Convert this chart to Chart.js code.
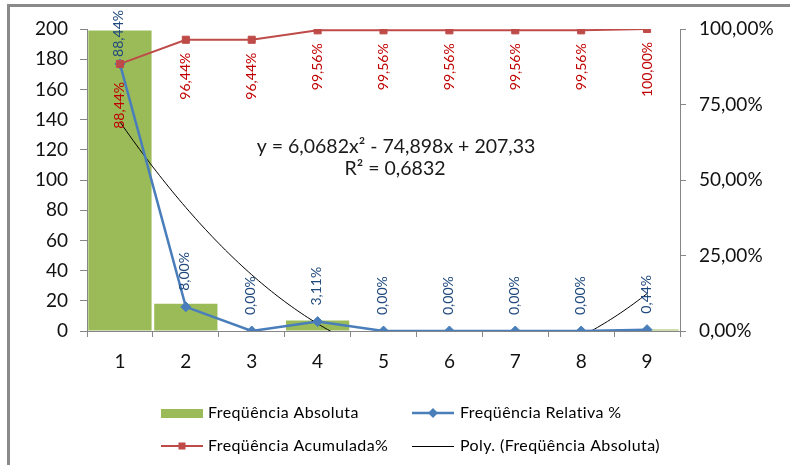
<!DOCTYPE html>
<html>
<head>
<meta charset="utf-8">
<script src="https://cdn.jsdelivr.net/npm/chart.js@4"></script>
<style>
  html, body { margin: 0; padding: 0; background: #ffffff; }
  #wrap { width: 790px; height: 465px; }
</style>
</head>
<body>
<div id="wrap"><canvas id="grafico" width="790" height="465"></canvas></div>
<script>
// Distribuição de frequências por classe
const categorias = ['1', '2', '3', '4', '5', '6', '7', '8', '9'];
const freqAbsoluta = [199, 18, 0, 7, 0, 0, 0, 0, 1];
const freqRelativa = [88.44, 8.00, 0.00, 3.11, 0.00, 0.00, 0.00, 0.00, 0.44];
const freqAcumulada = [88.44, 96.44, 96.44, 99.56, 99.56, 99.56, 99.56, 99.56, 100.00];
// Linha de tendência polinomial (ordem 2): y = a x² + b x + c
const tendenciaCoef = [6.0682, -74.898, 207.33];
const tendenciaR2 = 0.6832;
const nomesSeries = ['Freqüência Absoluta', 'Freqüência Relativa %', 'Freqüência Acumulada%', 'Poly. (Freqüência Absoluta)'];
const ticksEsquerda = [0, 20, 40, 60, 80, 100, 120, 140, 160, 180, 200];
const ticksDireita = [0, 25, 50, 75, 100];

const VERDE = '#9BBB59';
const AZUL = '#4A7EBB';
const VERMELHO = '#BE4B48';
const CINZA = '#868686';
const FONTE = 'Lato, "Open Sans", sans-serif';

const virgula = (v, casas) => v.toFixed(casas).replace('.', ',');
const pct = v => virgula(v, 2) + '%';

// pontos da curva de tendência entre a primeira e a última categoria
const [ta, tb, tc] = tendenciaCoef;
const curva = [];
for (let k = 0; k <= 160; k++) {
  const x = 1 + k * 0.05;
  curva.push({ x: x, y: ta * x * x + tb * x + tc });
}

const fmtCoef = v => String(v).replace('.', ',');
const equacao = 'y = ' + fmtCoef(ta) + 'x² ' + (tb < 0 ? '- ' : '+ ') + fmtCoef(Math.abs(tb)) + 'x ' +
  (tc < 0 ? '- ' : '+ ') + fmtCoef(Math.abs(tc));
const textoR2 = 'R² = ' + fmtCoef(tendenciaR2);

// moldura, rótulos de dados, equação e legenda
const extras = {
  id: 'extras',
  beforeDraw(chart) {
    const ctx = chart.ctx;
    ctx.save();
    ctx.fillStyle = '#ffffff';
    ctx.fillRect(0, 0, chart.width, chart.height);
    ctx.fillStyle = '#8a8a8a';
    ctx.fillRect(7, 4, 3, chart.height - 4);
    ctx.fillRect(7, 4, chart.width - 7, 3);
    ctx.restore();
  },
  afterDatasetsDraw(chart) {
    const ctx = chart.ctx;
    ctx.save();
    ctx.font = '14px ' + FONTE;
    ctx.textBaseline = 'middle';
    // rótulos da frequência relativa (acima dos pontos)
    chart.getDatasetMeta(1).data.forEach((p, i) => {
      const t = pct(freqRelativa[i]);
      const w = ctx.measureText(t).width;
      let base = p.y - 16;
      if (base - w < 10) base = 10 + w;
      ctx.save();
      ctx.translate(p.x - 1, base);
      ctx.rotate(-Math.PI / 2);
      ctx.textAlign = 'left';
      ctx.fillStyle = '#1F497D';
      ctx.fillText(t, 0, 0);
      ctx.restore();
    });
    // rótulos da frequência acumulada (abaixo dos pontos)
    chart.getDatasetMeta(2).data.forEach((p, i) => {
      const t = pct(freqAcumulada[i]);
      ctx.save();
      ctx.translate(p.x, p.y + (i === 0 ? 18 : 13));
      ctx.rotate(-Math.PI / 2);
      ctx.textAlign = 'right';
      ctx.fillStyle = '#C00000';
      ctx.fillText(t, 0, 0);
      ctx.restore();
    });
    ctx.restore();
  },
  afterDraw(chart) {
    const ctx = chart.ctx;
    ctx.save();
    // equação da tendência
    ctx.fillStyle = '#1a1a1a';
    ctx.font = '19.5px ' + FONTE;
    ctx.textAlign = 'center';
    ctx.textBaseline = 'middle';
    ctx.fillText(equacao, 396, 147);
    ctx.fillText(textoR2, 395, 169);

    // legenda
    ctx.font = '16px ' + FONTE;
    ctx.letterSpacing = '0.4px';
    ctx.textAlign = 'left';
    const c1 = 161, c2 = 412, r1 = 413, r2 = 446, comp = 42, tx = 47;
    // barras
    ctx.fillStyle = VERDE;
    ctx.fillRect(c1, r1 - 4, comp, 9);
    // relativa
    ctx.strokeStyle = AZUL; ctx.lineWidth = 2.5;
    ctx.beginPath(); ctx.moveTo(c2, r1); ctx.lineTo(c2 + comp, r1); ctx.stroke();
    ctx.fillStyle = AZUL;
    ctx.beginPath();
    ctx.moveTo(c2 + comp / 2, r1 - 5); ctx.lineTo(c2 + comp / 2 + 5, r1);
    ctx.lineTo(c2 + comp / 2, r1 + 5); ctx.lineTo(c2 + comp / 2 - 5, r1);
    ctx.closePath(); ctx.fill();
    // acumulada
    ctx.strokeStyle = VERMELHO; ctx.lineWidth = 2;
    ctx.beginPath(); ctx.moveTo(c1, r2); ctx.lineTo(c1 + comp, r2); ctx.stroke();
    ctx.fillStyle = VERMELHO;
    ctx.fillRect(c1 + comp / 2 - 3.5, r2 - 3.5, 7, 7);
    // tendência
    ctx.strokeStyle = '#000000'; ctx.lineWidth = 1;
    ctx.beginPath(); ctx.moveTo(c2, r2 + 0.5); ctx.lineTo(c2 + comp, r2 + 0.5); ctx.stroke();

    ctx.fillStyle = '#000000';
    ctx.fillText(nomesSeries[0], c1 + tx, r1);
    ctx.fillText(nomesSeries[1], c2 + tx + 1, r1);
    ctx.fillText(nomesSeries[2], c1 + tx, r2);
    ctx.fillText(nomesSeries[3], c2 + tx + 1, r2);
    ctx.restore();
  }
};

new Chart(document.getElementById('grafico'), {
  type: 'bar',
  data: {
    labels: categorias,
    datasets: [
      {
        type: 'bar',
        label: nomesSeries[0],
        data: freqAbsoluta,
        backgroundColor: VERDE,
        borderWidth: 0,
        grouped: false,
        barPercentage: 0.96,
        categoryPercentage: 1.0,
        xAxisID: 'x',
        yAxisID: 'y',
        order: 4
      },
      {
        type: 'line',
        label: nomesSeries[1],
        data: freqRelativa,
        borderColor: AZUL,
        backgroundColor: AZUL,
        borderWidth: 2.5,
        pointStyle: 'rectRot',
        pointRadius: 5,
        pointBorderWidth: 1,
        tension: 0,
        xAxisID: 'x',
        yAxisID: 'y2',
        order: 2
      },
      {
        type: 'line',
        label: nomesSeries[2],
        data: freqAcumulada,
        borderColor: VERMELHO,
        backgroundColor: VERMELHO,
        borderWidth: 2,
        pointStyle: 'rect',
        pointRadius: 5,
        pointBorderWidth: 1,
        tension: 0,
        xAxisID: 'x',
        yAxisID: 'y2',
        order: 1
      },
      {
        type: 'line',
        label: nomesSeries[3],
        data: curva,
        borderColor: '#000000',
        borderWidth: 1,
        pointRadius: 0,
        tension: 0,
        xAxisID: 'xt',
        yAxisID: 'y',
        order: 3
      }
    ]
  },
  options: {
    responsive: false,
    animation: false,
    events: [],
    layout: { padding: { top: 29, left: 0, right: 0, bottom: 0 } },
    plugins: { legend: { display: false }, tooltip: { enabled: false } },
    scales: {
      x: {
        type: 'category',
        offset: true,
        grid: { display: true, offset: true, drawOnChartArea: false, drawTicks: true, tickLength: 6, color: CINZA },
        border: { display: true, color: CINZA, width: 1 },
        ticks: { font: { family: FONTE, size: 19 }, color: '#111111', padding: 13, maxRotation: 0 },
        afterFit: s => { s.height = 134; }
      },
      xt: {
        axis: 'x',
        type: 'linear',
        display: false,
        offset: false,
        grid: { offset: false },
        min: 0.5,
        max: 9.5
      },
      y: {
        position: 'left',
        min: ticksEsquerda[0],
        max: ticksEsquerda[ticksEsquerda.length - 1],
        afterBuildTicks: s => { s.ticks = ticksEsquerda.map(v => ({ value: v })); },
        grid: { drawOnChartArea: false, drawTicks: true, tickLength: 7, color: CINZA },
        border: { display: true, color: CINZA, width: 1 },
        ticks: { font: { family: FONTE, size: 19 }, color: '#111111', padding: 12 },
        afterFit: s => { s.width = 87; }
      },
      y2: {
        position: 'right',
        min: ticksDireita[0],
        max: ticksDireita[ticksDireita.length - 1],
        afterBuildTicks: s => { s.ticks = ticksDireita.map(v => ({ value: v })); },
        grid: { drawOnChartArea: false, drawTicks: true, tickLength: 6, color: CINZA },
        border: { display: true, color: CINZA, width: 1 },
        ticks: { font: { family: FONTE, size: 19 }, color: '#111111', padding: 13, callback: v => pct(v) },
        afterFit: s => { s.width = 110; }
      }
    }
  },
  plugins: [extras]
});
</script>
</body>
</html>
